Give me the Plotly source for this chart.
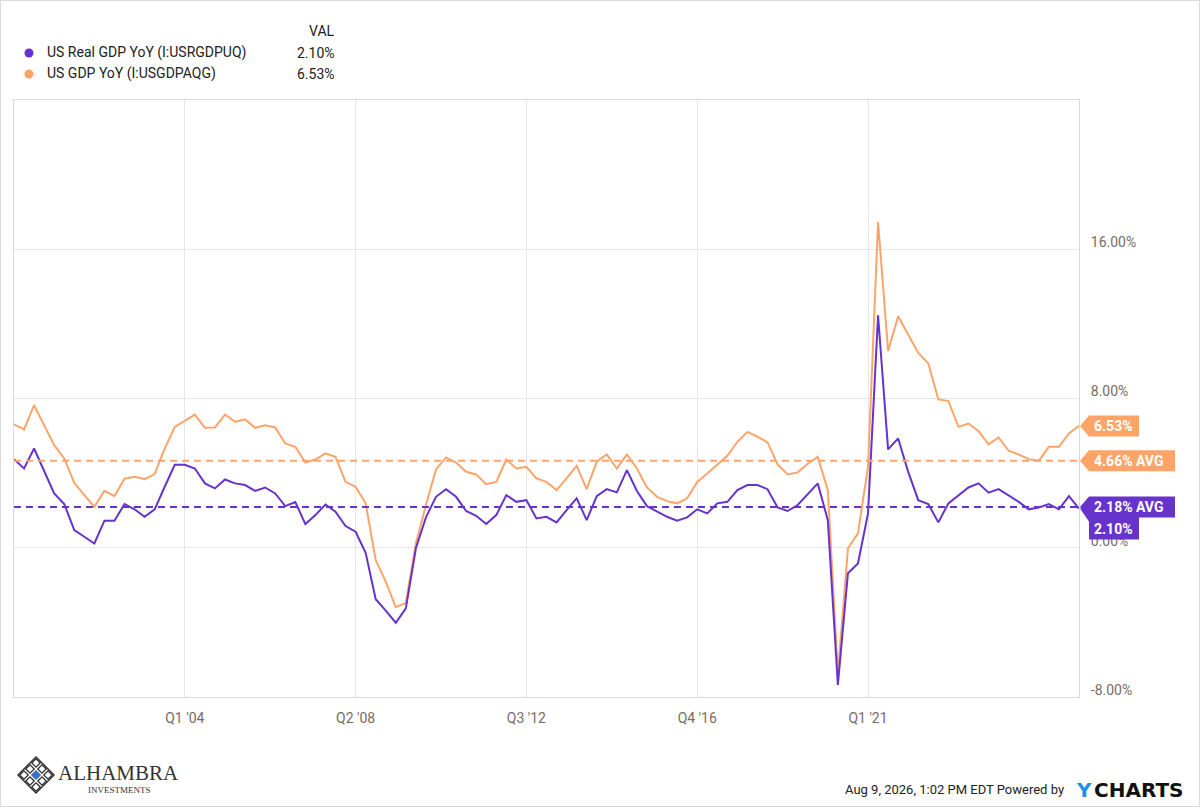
import plotly.graph_objects as go

# ---------------- data ----------------
START_YEAR, START_Q = 1999, 4

real_gdp_yoy = [
    4.75, 4.25, 5.32, 4.12, 2.91, 2.34, 0.95, 0.59, 0.23, 1.45,
    1.45, 2.34, 2.06, 1.66, 2.06, 3.27, 4.45, 4.45, 4.25, 3.45,
    3.18, 3.66, 3.45, 3.36, 3.05, 3.23, 2.91, 2.23, 2.45, 1.27,
    1.75, 2.32, 1.93, 1.16, 0.86, -0.27, -2.76, -3.37, -4.02, -3.25,
    -0.03, 1.63, 2.73, 3.14, 2.73, 1.97, 1.71, 1.27, 1.75, 2.82,
    2.46, 2.55, 1.57, 1.66, 1.36, 2.02, 2.65, 1.48, 2.77, 3.14,
    2.97, 4.16, 3.04, 2.23, 1.93, 1.66, 1.45, 1.63, 2.06, 1.84,
    2.38, 2.46, 3.09, 3.36, 3.36, 3.14, 2.16, 1.97, 2.29, 2.90,
    3.45, 1.48, -7.35, -1.37, -0.84, 1.84, 12.46, 5.27, 5.86, 4.07,
    2.55, 2.34, 1.36, 2.38, 2.82, 3.23, 3.45, 2.95, 3.14, 2.82,
    2.46, 2.06, 2.16, 2.34, 2.06, 2.77, 2.10,
]

nominal_gdp_yoy = [
    6.61, 6.34, 7.64, 6.57, 5.50, 4.79, 3.48, 2.82, 2.20, 3.05,
    2.77, 3.70, 3.80, 3.68, 3.95, 5.32, 6.48, 6.80, 7.14, 6.43,
    6.45, 7.14, 6.75, 6.88, 6.43, 6.57, 6.45, 5.59, 5.41, 4.57,
    4.73, 5.06, 4.87, 3.53, 3.27, 2.38, -0.66, -1.82, -3.19, -2.95,
    0.23, 2.29, 4.20, 4.84, 4.57, 4.07, 3.93, 3.41, 3.53, 4.73,
    4.25, 4.34, 3.72, 3.53, 3.09, 3.72, 4.39, 3.14, 4.61, 5.00,
    4.25, 5.00, 4.25, 3.23, 2.73, 2.50, 2.38, 2.65, 3.53, 3.98,
    4.47, 4.93, 5.68, 6.21, 5.95, 5.65, 4.47, 3.93, 4.04, 4.50,
    4.87, 3.09, -6.73, -0.03, 0.77, 4.34, 17.46, 10.55, 12.41, 11.39,
    10.44, 9.88, 7.95, 7.86, 6.48, 6.66, 6.25, 5.54, 5.91, 5.20,
    5.00, 4.75, 4.66, 5.41, 5.41, 6.13, 6.53,
]

real_avg = 2.18
nominal_avg = 4.66
real_last = 2.10
nominal_last = 6.53

series_names = ["US Real GDP YoY (I:USRGDPUQ)", "US GDP YoY (I:USGDPAQG)"]
x_tick_labels = ["Q1 '04", "Q2 '08", "Q3 '12", "Q4 '16", "Q1 '21"]
y_tick_values = [-8, 0, 8, 16]
y_tick_text = [f"{v:.2f}%" for v in y_tick_values]

# quarter category labels
quarters = []
y, q = START_YEAR, START_Q
for _ in range(len(real_gdp_yoy)):
    quarters.append(f"Q{q} '{y % 100:02d}")
    q += 1
    if q > 4:
        q = 1
        y += 1

# ---------------- style ----------------
PURPLE = "#6633CC"
ORANGE = "#FFA468"
GRID = "#e6e6e6"
FRAME = "#d9d9d9"
TICK_COLOR = "#7a6b5f"
FONT = "Roboto"

WIDTH, HEIGHT = 1200, 807
ML, MR, MT, MB = 14, 121, 100, 110
PW = WIDTH - ML - MR
PH = HEIGHT - MT - MB
Y_MIN, Y_MAX = -8, 24
PX_PER_UNIT = PH / (Y_MAX - Y_MIN)


def xp(px):
    return (px - ML) / PW


def yp(py):
    return (HEIGHT - MB - py) / PH


def dy(pix):
    """pixel offset (downwards positive) -> data units"""
    return -pix / PX_PER_UNIT


fig = go.Figure()

fig.add_trace(go.Scatter(x=quarters, y=nominal_gdp_yoy, mode="lines", name=series_names[1],
                         line=dict(color=ORANGE, width=2)))
fig.add_trace(go.Scatter(x=quarters, y=real_gdp_yoy, mode="lines", name=series_names[0],
                         line=dict(color=PURPLE, width=2)))

# dashed average lines
fig.add_trace(go.Scatter(x=[quarters[0], quarters[-1]], y=[nominal_avg, nominal_avg],
                         mode="lines", line=dict(color=ORANGE, width=2, dash="7px,5px"),
                         hoverinfo="skip"))
fig.add_trace(go.Scatter(x=[quarters[0], quarters[-1]], y=[real_avg, real_avg],
                         mode="lines", line=dict(color=PURPLE, width=2, dash="7px,5px"),
                         hoverinfo="skip"))

shapes = []
annotations = []


def tag(value, text, color, body_right, offset_down=0):
    x_tip, x_body = xp(1080), xp(1089)
    x_r = xp(body_right)
    h = 10.5
    if offset_down == 0:
        path = (f"M {x_tip} {value} L {x_body} {value + dy(-h)} L {x_r} {value + dy(-h)} "
                f"L {x_r} {value + dy(h)} L {x_body} {value + dy(h)} Z")
        ty = value
    else:
        top = value
        bottom = value + dy(31)
        path = (f"M {x_tip} {top} L {x_r} {top} L {x_r} {bottom} "
                f"L {x_body} {bottom} L {x_body} {value + dy(13)} Z")
        ty = value + dy(20)
    shapes.append(dict(type="path", path=path, xref="paper", yref="y",
                       fillcolor=color, line=dict(width=0), layer="above"))
    annotations.append(dict(x=xp(1092), y=ty, xref="paper", yref="y", text=f"<b>{text}</b>",
                            showarrow=False, xanchor="left", yanchor="middle",
                            font=dict(family=FONT, size=14, color="white")))


tag(nominal_last, f"{nominal_last:.2f}%", ORANGE, 1139)
tag(nominal_avg, f"{nominal_avg:.2f}% AVG", ORANGE, 1175)
tag(real_last, f"{real_last:.2f}%", PURPLE, 1139, offset_down=1)
tag(real_avg, f"{real_avg:.2f}% AVG", PURPLE, 1175)

# legend (custom)
annotations.append(dict(x=xp(337), y=yp(31), xref="paper", yref="paper", text="VAL",
                        showarrow=False, xanchor="right", yanchor="middle",
                        font=dict(family=FONT, size=14, color="#222")))
for i, (name, col, val) in enumerate([(series_names[0], PURPLE, real_last),
                                       (series_names[1], ORANGE, nominal_last)]):
    yy = 53 + i * 21
    shapes.append(dict(type="circle", xref="paper", yref="paper",
                       x0=xp(24.5), x1=xp(33.5), y0=yp(yy - 4.5), y1=yp(yy + 4.5),
                       fillcolor=col, line=dict(width=0)))
    annotations.append(dict(x=xp(45), y=yp(yy), xref="paper", yref="paper", text=name,
                            showarrow=False, xanchor="left", yanchor="middle",
                            font=dict(family=FONT, size=14, color="#222")))
    annotations.append(dict(x=xp(337), y=yp(yy), xref="paper", yref="paper", text=f"{val:.2f}%",
                            showarrow=False, xanchor="right", yanchor="middle",
                            font=dict(family=FONT, size=14, color="#222")))

# outer frame
shapes.append(dict(type="rect", xref="paper", yref="paper",
                   x0=xp(0.5), x1=xp(WIDTH - 0.5), y0=yp(0.5), y1=yp(HEIGHT - 0.5),
                   line=dict(color=FRAME, width=1), fillcolor="rgba(0,0,0,0)"))

# Alhambra logo
cx, cy, r = 36, 775, 18
shapes.append(dict(type="path", xref="paper", yref="paper",
                   path=f"M {xp(cx - r)} {yp(cy)} L {xp(cx)} {yp(cy - r)} L {xp(cx + r)} {yp(cy)} L {xp(cx)} {yp(cy + r)} Z",
                   line=dict(color="#333", width=1.5), fillcolor="rgba(0,0,0,0)"))
for i in (-1, 0, 1):
    for j in (-1, 0, 1):
        mx = cx + (i - j) * 6
        my = cy + (i + j) * 6
        s = 4.2
        colr = "#3a6fc4" if (i == 0 and j == 0) else "#333"
        fill = "#3a6fc4" if (i == 0 and j == 0) else "rgba(0,0,0,0)"
        shapes.append(dict(type="path", xref="paper", yref="paper",
                           path=f"M {xp(mx - s)} {yp(my)} L {xp(mx)} {yp(my - s)} L {xp(mx + s)} {yp(my)} L {xp(mx)} {yp(my + s)} Z",
                           line=dict(color=colr, width=1.3), fillcolor=fill))
annotations.append(dict(x=xp(56), y=yp(773), xref="paper", yref="paper", text="ALHAMBRA",
                        showarrow=False, xanchor="left", yanchor="middle",
                        font=dict(family="Liberation Serif", size=21, color="#333")))
annotations.append(dict(x=xp(119), y=yp(790), xref="paper", yref="paper", text="INVESTMENTS",
                        showarrow=False, xanchor="center", yanchor="middle",
                        font=dict(family="Liberation Serif", size=9, color="#333")))

# footer
annotations.append(dict(x=xp(1066), y=yp(789), xref="paper", yref="paper",
                        text="Aug 9, 2026, 1:02 PM EDT Powered by",
                        showarrow=False, xanchor="right", yanchor="middle",
                        font=dict(family=FONT, size=13, color="#222")))
annotations.append(dict(x=xp(1074), y=yp(790), xref="paper", yref="paper", text="<b>Y</b>",
                        showarrow=False, xanchor="left", yanchor="middle",
                        font=dict(family="DejaVu Sans", size=20, color="#1e90e6")))
annotations.append(dict(x=xp(1092), y=yp(790), xref="paper", yref="paper", text="<b>CHARTS</b>",
                        showarrow=False, xanchor="left", yanchor="middle",
                        font=dict(family="DejaVu Sans", size=20, color="#111")))

fig.update_layout(
    width=WIDTH, height=HEIGHT,
    margin=dict(l=ML, r=MR, t=MT, b=MB),
    plot_bgcolor="white", paper_bgcolor="white",
    showlegend=False,
    font=dict(family=FONT),
    shapes=shapes, annotations=annotations,
)
fig.update_xaxes(
    type="category", categoryorder="array", categoryarray=quarters,
    range=[0, len(quarters) - 1],
    tickmode="array", tickvals=x_tick_labels, ticktext=x_tick_labels,
    showgrid=True, gridcolor=GRID, gridwidth=1,
    showline=True, linecolor=FRAME, linewidth=1, mirror=True,
    ticks="", ticklabelstandoff=8,
    tickfont=dict(family=FONT, size=14, color=TICK_COLOR),
)
fig.update_yaxes(
    side="right", range=[Y_MIN, Y_MAX],
    tickmode="array", tickvals=y_tick_values, ticktext=y_tick_text,
    showgrid=True, gridcolor=GRID, gridwidth=1, zeroline=False,
    showline=True, linecolor=FRAME, linewidth=1, mirror=True,
    ticks="", ticklabelstandoff=8, ticklabelshift=-7,
    tickfont=dict(family=FONT, size=14, color=TICK_COLOR),
)

fig.write_html("out.html", config={"displayModeBar": False},
               post_script="document.body.style.margin='0';")
